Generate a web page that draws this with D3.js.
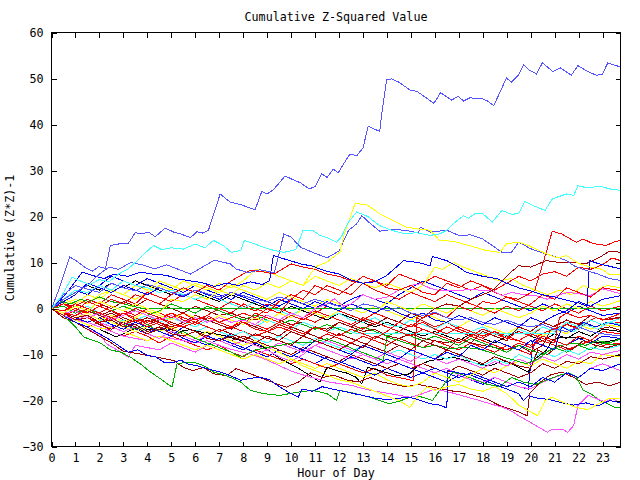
<!DOCTYPE html>
<html><head><meta charset="utf-8">
<script src="https://cdn.jsdelivr.net/npm/d3@7/dist/d3.min.js"></script>
<style>
html,body{margin:0;padding:0;background:#fff;}
text{font-family:"DejaVu Sans Mono",monospace;fill:#000;}
</style></head>
<body><svg id="c" width="640" height="480"></svg>
<script>
// ---- data: [hour, cumulative (Z*Z)-1] ----
const title = "Cumulative Z-Squared Value";
const xTitle = "Hour of Day";
const yTitle = "Cumulative (Z*Z)-1";
const xTicks = [0,1,2,3,4,5,6,7,8,9,10,11,12,13,14,15,16,17,18,19,20,21,22,23];
const yTicks = [-30,-20,-10,0,10,20,30,40,50,60];

const s01 = [[0,0],[0.3,4],[0.76,11.2],[1.0,10.5],[1.35,9.1],[1.7,8.1],[1.97,9.1],[2.25,8.7],[2.46,13.7],[2.88,14.1],[3.2,14.1],[3.5,16.5],[3.75,16.2],[4.05,16.6],[4.33,15.6],[4.75,17.5],[5.1,16.6],[5.4,16.2],[5.8,15.4],[6.07,16.7],[6.3,16.4],[6.55,17],[7.04,24.9],[7.46,23.1],[7.9,22.6],[8.2,22],[8.5,21.5],[8.78,25.5],[9.0,24.9],[9.26,25.8],[9.75,28.8],[10.17,27.8],[10.4,27.3],[10.76,26],[11.0,26.5],[11.28,29.3],[11.5,28.5],[11.76,30.3],[11.97,29.5],[12.2,31.5],[12.46,33.6],[12.74,33.2],[13,34.9],[13.22,39.6],[13.7,38.5],[13.8,43],[13.99,49.7],[14.2,49.9],[14.5,49.2],[14.96,47.5],[15.24,47.2],[15.37,46.8],[15.96,44.6],[16.24,46.9],[16.7,45.3],[16.97,46.1],[17.2,45.1],[17.46,45.8],[17.99,45.6],[18.2,45.1],[18.46,44.1],[18.99,50.1],[19.2,49.2],[19.47,50.6],[19.7,53.0],[19.95,51.8],[20.24,51],[20.49,53.4],[20.93,51.5],[21.24,52.3],[21.7,50.7],[21.97,52.8],[22.32,51.7],[22.74,50.7],[22.99,50.9],[23.22,53.4],[23.75,52.5]];
const s02 = [[0,0],[0.4,2.5],[0.86,6.8],[1.2,6],[1.6,5.2],[2,6.3],[2.4,5.8],[2.8,7.5],[3.2,8.6],[3.6,10.5],[4.0,12.5],[4.26,13.7],[4.6,12.8],[5,13.2],[5.5,12.9],[6,14],[6.4,13.2],[6.76,14.8],[7.2,13.6],[7.5,12.2],[7.9,12.6],[8.05,14.8],[8.5,14],[8.85,13.3],[9.3,12.6],[9.7,12.2],[10.2,12.8],[10.5,17],[10.9,17],[11.2,15.9],[11.6,15.2],[11.9,14.4],[12.1,15.6],[12.4,18.8],[12.74,21],[13.2,20],[13.7,18],[14.2,17],[14.8,16.2],[15.2,16.5],[15.8,15.9],[16.2,16.2],[16.5,17],[16.76,18.4],[17.2,20.2],[17.4,19.6],[17.67,20.6],[18,20.6],[18.4,18.8],[18.8,21.3],[19.2,20.5],[19.5,20.6],[19.75,23.3],[20.1,22.4],[20.6,21.3],[20.9,23.8],[21.1,24.2],[21.5,24.9],[21.8,24.6],[21.97,26.7],[22.3,26.3],[22.95,26.5],[23.3,26],[23.75,25.7]];
const s03 = [[0,0],[0.5,-1],[1,0.5],[1.5,-0.5],[2,1.5],[2.5,0.5],[3,-0.5],[3.5,1],[4,0],[4.5,-1],[5,2],[5.5,1.5],[6,3],[6.5,2],[7,4],[7.5,3],[8,5],[8.5,4],[9,5.5],[9.5,4.5],[10,6],[10.5,5],[11,9],[11.5,10.1],[12.04,12.3],[12.2,15.9],[12.67,22.8],[13.15,22.6],[13.7,20.6],[14.26,19.1],[14.8,17.7],[15.3,17.3],[15.8,17],[16.2,14.8],[16.8,14.6],[17.2,14],[17.7,13.3],[18.15,12.6],[18.7,12.2],[19,14.1],[19.5,14.4],[19.9,13.7],[20.65,11.9],[21.1,11],[21.5,11.5],[22,9.8],[22.5,9],[23,8.5],[23.3,7.3],[23.75,7.5]];
const s04 = [[0,0],[0.5,2],[1,3.5],[1.5,5],[2,7.5],[2.4,9],[2.8,8.5],[3.3,10],[3.8,9.5],[4.3,8.6],[4.8,9.5],[5.3,8.5],[5.8,7.5],[6.3,9],[6.8,10.5],[7.46,9.7],[7.7,8.6],[8.2,7.8],[8.7,8.4],[9.3,7.8],[9.7,16.2],[10.0,15.5],[10.4,13.3],[11,12],[11.5,11],[12,12.5],[12.4,17],[12.74,18.4],[12.95,20.2],[13.3,18.5],[13.7,16.8],[14.2,17.2],[14.8,17],[15.3,16.4],[15.4,17.7],[15.8,16.6],[16.5,17],[17,15.9],[17.5,16],[18,15.1],[18.4,13.7],[18.8,12.2],[19.2,12.2],[19.5,14.4],[20,13],[20.6,11.9],[21.2,11],[21.5,10.4],[21.8,9.3],[22.3,8.3],[22.8,7.5],[23.3,6.5],[23.75,6.1]];
const s05 = [[0,0],[0.5,3],[1,5],[1.5,4.2],[2,3.5],[2.5,5.5],[3,4.5],[3.5,3.8],[4,5.2],[4.5,4.5],[5,3.5],[5.5,2.8],[6,4],[6.5,3.2],[7,2.5],[7.5,3.5],[8,2.8],[8.5,2],[9,1.5],[9.5,2.5],[10,1.8],[10.5,1],[11,2],[11.5,1.2],[12,0.5],[12.5,-0.5],[13,1],[13.5,0.5],[14,-0.5],[14.5,0.2],[15,-1],[15.5,-1.5],[16,-0.8],[16.5,-2],[17,-2.5],[17.5,-2],[18,-3],[18.5,-3.5],[19,-2.5],[19.5,-3.5],[20,-4],[20.5,-3.5],[21,-4.5],[21.5,-5],[22,-4],[22.5,-5],[23,-5.5],[23.75,-6]];
const s06 = [[0,0],[0.4,2],[0.8,4.5],[1.28,7.9],[1.7,7.2],[2.2,6.5],[2.6,7.5],[3.2,7],[3.7,7.9],[4.2,7.5],[4.8,7.2],[5.3,6.4],[5.8,6],[6.3,5.6],[6.8,4.8],[7.3,5.5],[7.8,5],[8.3,5.8],[8.8,5.2],[9.1,6],[9.26,11.5],[9.7,10.8],[10.4,9.7],[10.9,9.2],[11.4,8.2],[12,7.5],[12.5,6.2],[13,5.5],[13.5,5.8],[14,7.2],[14.3,8.6],[14.7,10.4],[15.3,10],[15.8,9.3],[15.9,11.3],[16.5,10.4],[17,9],[17.3,7.9],[18,7],[18.6,6.5],[19,5.5],[19.5,4.5],[20,3.8],[20.5,3],[21,2.5],[21.5,1.8],[22,1.2],[22.35,0.5],[22.46,10.4],[22.8,9.8],[23.2,9.3],[23.75,8.6]];
const s07 = [[0,0],[0.5,-1],[1,-1.5],[1.5,0],[2,-1],[2.5,-2],[3,-1],[3.5,-2.5],[4,-3],[4.5,-2],[5,-3.5],[5.5,-4],[6,-3],[6.5,-4],[7,-5],[7.5,-4],[8,-3],[8.5,-4.5],[9,-5],[9.5,-3.5],[10,-4.5],[10.5,-5.5],[11,-4],[11.5,-5],[12,-6],[12.5,-4.5],[13,-5.5],[13.5,-6.5],[14,-5],[14.5,-3],[15,-4],[15.5,-2],[16,-1],[16.5,-2],[17,0.5],[17.5,-0.5],[18,1.5],[18.5,1],[19,2.5],[19.5,2],[20.17,3.9],[20.65,12.2],[20.9,16.8],[21.3,16.2],[21.9,14.4],[22.2,15.1],[22.6,14.1],[23.15,13.7],[23.5,14.5],[23.75,14.8]];
const s08 = [[0,0],[0.5,-1],[1,-2],[1.5,-1.5],[2,-3],[2.5,-2.5],[3,-4],[3.5,-3.5],[4,-5],[4.5,-4],[5,-5.5],[5.5,-6],[6,-5],[6.5,-6.5],[7,-7],[7.5,-6],[8,-7],[8.5,-5.5],[9,-6.5],[9.5,-7],[10,-5],[10.5,-6],[11,-4],[11.5,-5],[12,-3],[12.5,-4],[13,-2.5],[13.5,-3.5],[14,-2],[14.5,-3],[15,-1],[15.5,-2],[16,0],[16.5,1],[17,0.5],[17.5,2],[18,3],[18.4,3.9],[18.8,6],[19.2,8],[19.5,9.3],[20,9],[20.65,10.4],[21.2,10],[21.8,10],[22.3,9.7],[22.9,11.2],[23.3,12.5],[23.75,12.2]];
const s09 = [[0,0],[0.5,1],[1,-0.5],[1.5,1.5],[2,0.5],[2.5,2],[3,1],[3.5,3],[4,2],[4.5,1],[5,3],[5.5,4.5],[6,3.5],[6.5,5],[7,4],[7.5,6],[8,7.5],[8.3,8.3],[8.8,8],[9.3,7.5],[10,9.7],[10.5,9],[11,8.5],[11.5,7.5],[12,7],[12.5,6],[13,5.5],[13.5,6],[14,4.5],[14.5,4],[15,5],[15.5,3.5],[16,3],[16.5,5.5],[17,4.5],[17.5,6],[18,5],[18.5,4],[19,5.5],[19.5,7],[20,6],[20.5,7.5],[21,8],[21.5,7],[22,9],[22.5,8.5],[23,9.5],[23.4,11],[23.75,10.4]];
const s10 = [[0,0],[0.5,-0.5],[1,1],[1.5,0],[2,-1],[2.5,0.5],[3,-0.5],[3.5,-1.5],[4,0],[4.5,-1],[5,-2],[5.5,-1],[6,-2.5],[6.5,-1.5],[7,-3],[7.5,-2],[8,-1],[8.5,-2],[9,0],[9.5,-1],[10,2],[10.5,4],[11,3],[11.5,5],[12,4],[12.5,3],[13,5.5],[13.5,4],[14,3],[14.5,2],[15,3.5],[15.5,2.5],[16,1.5],[16.5,3],[17,2],[17.5,1],[18,0],[18.5,-1],[19,0.5],[19.5,-0.5],[20,1],[20.5,3],[21,2],[21.5,4.5],[22,3.5],[22.5,2.5],[23,4.5],[23.75,3.9]];
const s11 = [[0,0],[0.5,-1],[1,-0.5],[1.5,-2],[2,-1],[2.5,-2.5],[3,-1.5],[3.5,-0.5],[4,-1.5],[4.5,-2.5],[5,-1.5],[5.5,-3],[6,-2],[6.5,-3],[7,-2],[7.5,-3],[8,-2.5],[8.5,-3.5],[9,-1.5],[9.5,-2.5],[10,-1],[10.5,-2],[11,0],[11.5,1],[11.8,2.1],[12.2,0.5],[12.5,1],[13,3],[13.5,2],[14,2.5],[14.5,4],[15,5],[15.4,5.4],[15.8,4.4],[16.2,3.9],[17,3.9],[17.5,4.2],[18,3.9],[18.4,3.9],[18.8,2.8],[19.2,3.5],[19.7,3],[20.2,2.8],[20.7,2],[21.2,3],[21.6,3.5],[22,3.2],[22.5,2.8],[23,4.3],[23.75,3.2]];
const s12 = [[0,0],[0.5,1.5],[1,3],[1.5,5.5],[2,4.5],[2.5,3.5],[3,5],[3.5,4],[4,3],[4.5,4.5],[5,3.5],[5.5,2.5],[6,4],[6.5,3],[7,2],[7.5,3.5],[8,2.5],[8.5,1.5],[9,0.5],[9.5,2],[10,1],[10.5,0],[11,1.5],[11.5,0.5],[12,-0.5],[12.5,1],[13,0],[13.5,-1],[14,0.5],[14.5,-1],[15,-2],[15.5,-1],[16,-2.5],[16.5,-3],[17,-1.5],[17.5,-2.5],[18,-3.5],[18.5,-2],[19,-3],[19.5,-4],[20,-2],[20.5,-3],[21,-1.5],[21.5,-0.5],[22,1.5],[22.5,0.5],[23,2],[23.75,2.8]];
const s13 = [[0,0],[0.5,-1],[1,-2],[1.5,-1],[2,-2.5],[2.5,-1.5],[3,-3],[3.5,-2],[4,-0.5],[4.5,-1.5],[5,-2.5],[5.5,-1],[6,-2],[6.5,-3],[7,-1.5],[7.5,-2.5],[8,-3.5],[8.5,-2],[9,-3],[9.5,-1],[10,-2],[10.5,0],[11,-1],[11.5,-2],[12,-0.5],[12.5,1],[13,0],[13.5,-1],[14,1.5],[14.5,0.5],[15,-0.5],[15.5,1],[16,0],[16.5,-1],[17,0.5],[17.5,-0.5],[18,-1.5],[18.5,0],[19,-1],[19.5,-2],[20,-1],[20.5,0.5],[21,-0.5],[21.5,1],[22,0],[22.5,1.5],[23,0.5],[23.75,1.7]];
const s14 = [[0,0],[0.4,1.5],[0.8,1],[1.2,2],[1.6,1.5],[2,2.5],[2.5,1.5],[3,1],[3.4,0.5],[3.8,0],[23.75,0]];
const s15 = [[0,0],[0.5,-1.5],[1,-0.5],[1.5,-2],[2,-3],[2.5,-2],[3,-3.5],[3.5,-2.5],[4,-4],[4.5,-3],[5,-4.5],[5.5,-3.5],[6,-2],[6.5,-3],[7,-1.5],[7.5,-2.5],[8,-3.5],[8.5,-1],[9,-2],[9.5,-3],[10,-1.5],[10.5,-2.5],[11,-1],[11.5,0.5],[12,-0.5],[12.5,-1.5],[13,-2.5],[13.5,-1],[14,-2],[14.5,-3],[15,-4],[15.5,-3],[16,-4.5],[16.5,-5.5],[17,-4],[17.5,-5],[18,-6],[18.5,-5],[19,-6.5],[19.5,-7],[20,-5.5],[20.5,-6.5],[21,-7.5],[21.2,-2],[21.5,-1],[22,-2],[22.5,-1.5],[23,-2.5],[23.75,-1.1]];
const s16 = [[0,0],[0.5,-1],[1,-2.5],[1.5,-2],[2,-3.5],[2.5,-4.5],[3,-3],[3.5,-4],[4,-5.5],[4.5,-4.5],[5,-3],[5.5,-4],[6,-5],[6.5,-6],[7,-4.5],[7.5,-5.5],[8,-6.5],[8.5,-7.5],[9,-6],[9.5,-7],[10,-8],[10.5,-6],[11,-7],[11.5,-8],[12,-9],[12.5,-7.5],[13,-8.5],[13.5,-6],[14,-7],[14.5,-8],[15,-9],[15.5,-7],[16,-8],[16.5,-9],[17,-6.5],[17.5,-7.5],[18,-5],[18.5,-6],[19,-7],[19.5,-4],[20,-5],[20.5,-3],[21,-4],[21.5,-2.5],[22,-3.5],[22.5,-1.5],[23,-2.5],[23.75,-1.9]];
const s17 = [[0,0],[0.5,2],[1,4],[1.5,3.5],[2,5],[2.5,4],[3,6],[3.5,5],[4,4.5],[4.5,3.5],[5,4],[5.5,3],[6,2],[6.5,3],[7,2],[7.5,1],[8,0],[8.5,1.5],[9,0.5],[9.5,-0.5],[10,-1.5],[10.5,0],[11,-1],[11.5,-2],[12,-1],[12.5,-2.5],[13,-3],[13.5,-2],[14,-3.5],[14.5,-4],[15,-2.5],[15.5,-3.5],[16,-4.5],[16.5,-3],[17,-4],[17.5,-5],[18,-4],[18.5,-5.5],[19,-6],[19.5,-4.5],[20,-5.5],[20.5,-4],[21,-5],[21.5,-3],[22,-4],[22.5,-2.5],[23,-3.5],[23.75,-2.2]];
const s18 = [[0,0],[0.5,-1],[1,-2],[1.5,-3],[2,-2],[2.5,-3.5],[3,-4.5],[3.5,-3],[4,-4],[4.5,-5],[5,-6],[5.5,-4],[6,-5],[6.5,-6],[7,-7],[7.5,-5.5],[8,-6.5],[8.5,-7.5],[9,-6],[9.5,-7],[10,-8],[10.5,-9],[11,-7],[11.5,-8],[12,-9],[12.5,-10],[13,-8],[13.5,-9],[14,-10],[14.5,-11],[15,-9],[15.5,-10],[16,-11],[16.5,-9.5],[17,-10.5],[17.5,-8],[18,-9],[18.5,-7],[19,-8],[19.5,-9],[20,-7],[20.5,-8],[21,-9],[21.3,-4],[21.7,-5],[22.2,-3],[22.7,-4],[23.2,-3],[23.75,-3.7]];
const s19 = [[0,0],[0.5,1],[1,0],[1.5,-1],[2,0.5],[2.5,-0.5],[3,-1.5],[3.5,0],[4,-1],[4.5,-2],[5,-1],[5.5,-2.5],[6,-3.5],[6.5,-2],[7,-3],[7.5,-4],[8,-2.5],[8.5,-3.5],[9,-4.5],[9.5,-3],[10,-4],[10.5,-2],[11,-3],[11.5,-1.5],[12,-2.5],[12.5,-3.5],[13,-4.5],[13.5,-3],[14,-4],[14.5,-5],[15,-6],[15.5,-4.5],[16,-5.5],[16.5,-6.5],[17,-7.5],[17.5,-6],[18,-7],[18.5,-8],[19,-9],[19.5,-7.5],[20,-8.5],[20.5,-6],[21,-7],[21.5,-8],[22,-6],[22.5,-7],[23,-5],[23.75,-5.5]];
const s20 = [[0,0],[0.5,-1.5],[1,-0.5],[1.5,-2],[2,-3],[2.5,-2],[3,-3.5],[3.5,-4.5],[4,-3.5],[4.5,-5],[5,-6],[5.5,-5],[6,-6.5],[6.5,-7.5],[7,-8.5],[7.5,-9.5],[7.9,-10.6],[8.5,-9],[9,-8.5],[9.54,-8],[10.24,-7.3],[10.8,-7.5],[11.5,-6.6],[12,-7.5],[12.6,-8.8],[13.2,-10],[13.85,-11.3],[14,-6.2],[14.5,-7],[15,-7.8],[15.5,-8.5],[16,-8],[16.7,-8.8],[17.2,-8.4],[17.8,-8.8],[18.3,-9.5],[18.8,-10.5],[19.3,-11.2],[19.8,-12],[20.3,-11],[20.8,-9],[21.3,-8],[21.8,-7.5],[22.3,-8],[22.8,-7],[23.3,-7.5],[23.75,-6.6]];
const s21 = [[0,0],[0.5,-1],[1,0.5],[1.5,-0.5],[2,-1.5],[2.5,-0.5],[3,-2],[3.5,-3],[4,-2],[4.5,-3],[5,-4],[5.5,-3],[6,-1.5],[6.5,-2.5],[7,-3.5],[7.5,-4.5],[8,-3],[8.5,-4],[9,-5],[9.5,-6],[10,-4],[10.5,-5],[11,-6],[11.5,-7],[12,-5.5],[12.5,-6.5],[13,-7.5],[13.5,-8.5],[14,-9.5],[14.5,-8],[15,-9],[15.5,-10],[16,-11],[16.5,-9],[17,-10],[17.5,-11],[18,-12],[18.5,-10.5],[19,-11.5],[19.5,-12.5],[20,-13],[20.3,-9],[20.7,-10],[21.2,-8],[21.7,-9],[22.2,-7],[22.7,-8],[23.2,-8.5],[23.75,-7.7]];
const s22 = [[0,0],[0.5,-1.5],[1,-2.5],[1.5,-1.5],[2,-3],[2.5,-4],[3,-5],[3.5,-4],[4,-5.5],[4.5,-6.5],[5,-5],[5.5,-6],[6,-7],[6.5,-6],[7,-7],[7.5,-8],[8,-7],[8.5,-8],[9,-9],[9.5,-7.5],[10,-8.5],[10.5,-9.5],[11,-8],[11.5,-7],[12,-8],[12.5,-9],[13,-10],[13.5,-11],[14,-9.5],[14.5,-10.5],[15,-11.5],[15.5,-10],[16,-11],[16.5,-12],[17,-11],[17.5,-12],[18,-13],[18.5,-11.5],[19,-12.5],[19.5,-11],[20,-12],[20.5,-10.5],[21,-11.5],[21.5,-10],[22,-11],[22.5,-9.5],[23,-10],[23.75,-9.1]];
const s23 = [[0,0],[0.5,-1],[1,-2],[1.5,-3],[2,-2],[2.5,-3],[3,-4],[3.5,-5],[4,-4],[4.5,-5],[5,-4],[5.5,-5.5],[6,-6.5],[6.5,-5],[7,-6],[7.5,-7],[8,-8],[8.5,-7],[9,-8.5],[9.5,-9.5],[10,-11],[10.5,-12],[11,-13],[11.5,-12],[12,-13],[12.5,-14],[13,-15],[13.5,-14],[14,-15.5],[14.5,-16.5],[15,-17],[15.5,-16],[16,-14],[16.5,-15],[17,-16],[17.5,-14.5],[18,-13],[18.5,-14],[19,-12.5],[19.5,-11.5],[20,-12.5],[20.5,-11],[21,-12],[21.5,-13],[22,-11.5],[22.5,-12],[23,-10],[23.75,-10.5]];
const s24 = [[0,0],[0.5,-1.5],[1,-2.5],[1.5,-3.5],[2,-4.5],[2.5,-4],[3,-5],[3.5,-6],[4,-7],[4.5,-6],[5,-7],[5.5,-8],[6,-9],[6.5,-8],[7,-9],[7.5,-10],[8,-11],[8.5,-10],[9,-11],[9.5,-12],[10,-11],[10.5,-12.5],[11,-13.5],[11.5,-14.5],[12,-15.5],[12.5,-16],[13,-17],[13.5,-18],[14,-19],[14.5,-20],[14.96,-21.5],[15.3,-19],[15.7,-17],[16,-17.8],[16.5,-17],[17,-16.5],[17.5,-17.5],[18,-18],[18.5,-17],[19,-18.5],[19.5,-21],[20,-22.5],[20.3,-23.3],[20.6,-20],[20.9,-19.3],[21.4,-20.5],[21.9,-21.5],[22.4,-22],[22.9,-20.5],[23.3,-19.5],[23.75,-19.6]];
const s25 = [[0,0],[0.5,-1],[1,-2.5],[1.5,-1.5],[2,-3],[2.5,-4],[3,-3],[3.5,-4.5],[4,-5.5],[4.5,-4],[5,-5],[5.5,-6.5],[6,-7.5],[6.5,-6],[7,-7],[7.5,-8],[8,-9],[8.5,-7.5],[9,-8.5],[9.5,-9.5],[10,-10.5],[10.5,-9],[11,-10],[11.5,-11],[12,-12],[12.5,-10.5],[13,-11.5],[13.5,-12.5],[14,-11],[14.5,-12],[15,-13],[15.5,-14],[16,-13],[16.5,-14],[17,-15],[17.5,-14],[18,-15],[18.5,-16],[19,-17],[19.5,-16],[20,-17],[20.5,-15],[21,-16],[21.5,-14],[22,-15],[22.5,-13],[23,-13.5],[23.75,-12]];
const s26 = [[0,0],[0.5,-1.5],[1,-3],[1.5,-4],[2,-5.5],[2.5,-7],[3.2,-9.5],[3.6,-9],[4,-10.2],[4.35,-10.5],[4.7,-11.7],[5.1,-11.7],[5.4,-11.2],[5.65,-12],[6.1,-12.5],[6.5,-13.1],[7.04,-13.8],[7.46,-14.6],[7.9,-15.6],[8.3,-15.2],[8.7,-14.9],[9.1,-15.5],[9.54,-17.1],[9.9,-18.2],[10.3,-19.3],[10.45,-17.5],[10.9,-18],[11.3,-17],[11.7,-17.5],[12.2,-18],[12.6,-18.5],[13,-18.9],[13.5,-19.5],[14,-19.8],[14.5,-19.5],[14.96,-19.3],[15.4,-20],[15.8,-20.7],[16.2,-21],[16.5,-21.6],[16.55,-13.5],[17,-14],[17.5,-14.5],[18,-15.5],[18.5,-16.5],[19,-17.5],[19.5,-18.5],[19.7,-20],[19.9,-19],[20.3,-19.5],[20.8,-19.8],[21.3,-20.5],[21.8,-21],[22.3,-20.5],[22.8,-21.2],[23.3,-20],[23.75,-20.5]];
const s27 = [[0,0],[0.5,-1],[1,-2.5],[1.5,-3],[2,-4],[2.5,-5],[3,-6],[3.5,-6.5],[4,-7],[4.5,-6],[5,-6.5],[5.5,-7],[6,-7.5],[6.5,-7],[7,-8],[7.46,-8.8],[8.3,-9.9],[8.9,-11],[9.5,-12.4],[10.1,-13.8],[10.8,-14.9],[11.6,-16],[12.5,-16.7],[13.3,-17.8],[14.1,-18.5],[15,-19.3],[15.5,-18.5],[16,-17.5],[16.76,-18.4],[17.3,-19.2],[17.8,-19.9],[18.3,-20.7],[18.85,-21.5],[19.2,-22.3],[19.5,-23.3],[19.8,-24.2],[20.1,-25.1],[20.4,-26],[20.7,-26.9],[20.9,-26.2],[21.3,-26.2],[21.55,-26.9],[21.8,-25.4],[21.97,-21.1],[22.4,-18.9],[22.7,-19.5],[23.1,-20.3],[23.4,-19.6],[23.75,-20.5]];
const s28 = [[0,0],[0.5,-1.5],[1,-4],[1.35,-6.2],[2.04,-7.5],[2.46,-9],[2.9,-9.5],[3.3,-10.6],[3.7,-12],[4.05,-13.5],[4.55,-15.3],[5.03,-17.1],[5.24,-12],[5.5,-11.8],[5.93,-11.7],[6.35,-12.4],[6.76,-13.8],[7.3,-14.6],[7.9,-16],[8.3,-17.8],[8.85,-18.5],[9.54,-18.9],[10.24,-18.2],[10.9,-17.8],[11.5,-18.5],[11.9,-20],[12.04,-17.8],[12.7,-18.5],[13.3,-19.3],[14.1,-20.7],[14.5,-20.2],[14.8,-19.6],[15.24,-18.9],[15.6,-19.5],[15.9,-20],[16.2,-17.8],[16.76,-13.8],[17.2,-14.5],[17.7,-15.5],[18.2,-16.5],[18.7,-17],[19.2,-15],[19.7,-16],[20.2,-16.5],[20.7,-15.5],[21.2,-14.5],[21.6,-14],[21.9,-14.9],[22.2,-17.8],[22.5,-18.5],[22.9,-20],[23.2,-20.7],[23.5,-21.5],[23.75,-21.5]];
const s29 = [[0,0],[0.5,-2],[1,-3],[1.5,-4.5],[2,-6],[2.5,-7.5],[3,-9.3],[3.7,-9.9],[4.4,-10.6],[5.1,-11.3],[5.5,-12.8],[5.9,-13.5],[6.35,-12.8],[6.76,-14.2],[7.3,-14.6],[7.7,-13.1],[8.2,-14],[8.85,-15.3],[9.4,-16.4],[9.8,-17.1],[10.3,-16],[10.8,-14],[11.3,-15],[11.8,-14.5],[12.3,-15.5],[12.8,-16],[13.3,-15],[13.8,-16],[14.3,-16.5],[14.8,-17],[15.3,-16.5],[15.8,-17],[16.3,-17.5],[16.8,-18],[17.2,-18.2],[17.7,-19],[18.15,-19.6],[18.7,-21.1],[19.1,-21.8],[19.5,-22.5],[19.85,-23.3],[19.96,-18.5],[20.4,-16],[20.8,-14.5],[21.3,-13.8],[21.8,-15],[22.3,-16.5],[22.8,-16],[23.3,-16.8],[23.75,-16]];
const s30 = [[0,0],[0.5,-2],[1,-3],[1.5,-4.5],[2,-5.5],[2.3,-7.7],[2.9,-9.5],[3.2,-10.6],[3.5,-8],[4,-8.5],[4.5,-9],[5,-7.5],[5.5,-8.5],[6,-9.5],[6.5,-8],[7,-9],[7.5,-10],[8,-11],[8.5,-10],[9,-9],[9.5,-10.5],[10,-11.5],[10.5,-10],[11,-8],[11.5,-9],[12,-10],[12.5,-11],[13,-10],[13.5,-11],[14,-12],[14.5,-11],[15,-12],[15.5,-13],[16,-14],[16.5,-13],[17,-14.5],[17.5,-15.5],[18,-16],[18.5,-15],[19,-16],[19.5,-17],[20,-17.5],[20.5,-16],[21,-15],[21.5,-14],[22,-15],[22.5,-13],[23,-12],[23.75,-13.5]];
const s31 = [[0,0],[0.5,1],[1,-0.5],[1.5,0.5],[2,-1],[2.5,-2],[3,-1],[3.5,-2.5],[4,-1.5],[4.5,-3],[5,-2],[5.5,-3],[6,-4],[6.5,-2.5],[7,-3.5],[7.5,-4.5],[8,-3],[8.5,-4],[9,-2.5],[9.5,-3.5],[10,-4.5],[10.5,-3],[11,-4],[11.5,-5],[12,-4],[12.7,-5.4],[21,-5.4],[21.3,-4],[21.8,-5],[22.3,-3.5],[22.8,-4.5],[23.3,-3],[23.75,-3.5]];
const s32 = [[0,0],[0.5,-1],[1,-2],[1.5,-1],[2,-2.5],[2.5,-3.5],[3,-2.5],[3.5,-4],[4,-5],[4.5,-4],[5,-5],[5.5,-6],[6,-5],[6.5,-4],[7,-5],[7.5,-6],[8,-5],[8.5,-6.5],[9,-7.5],[9.5,-6],[10,-7],[10.5,-8],[11,-6.5],[11.5,-7.5],[12,-8.5],[12.5,-9.5],[13,-8],[13.5,-9],[14,-10],[14.5,-9],[15,-10],[15.5,-11],[16,-10],[16.5,-11],[17,-10],[17.5,-11.5],[18,-12.5],[18.5,-11],[19,-12],[19.5,-10],[20,-11],[20.5,-9.5],[21,-10.5],[21.5,-9],[22,-10],[22.5,-8.5],[23,-9],[23.75,-8]];
const s33 = [[0,0],[0.5,0.5],[1,-1],[1.5,0],[2,-1.5],[2.5,-0.5],[3,0.5],[3.5,-0.5],[4,-1.5],[4.5,-0.5],[5,1],[5.5,0],[6,-1],[6.5,0.5],[7,-0.5],[7.5,-1.5],[8,-2.5],[8.5,-1.5],[9,-2.5],[9.5,-3.5],[10,-2.5],[10.5,-3.5],[11,-4.5],[11.5,-3.5],[12,-4.5],[12.5,-5.5],[13,-4],[13.5,-5],[14,-6],[14.5,-5],[15,-6],[15.5,-7],[16,-6],[16.5,-7],[17,-8],[17.5,-6.5],[18,-7.5],[18.5,-8.5],[19,-9.5],[19.5,-8],[20,-9],[20.5,-10],[21,-8.5],[21.5,-9.5],[22,-8],[22.5,-9],[23,-7.5],[23.75,-8]];
const s34 = [[0,0],[0.5,-0.5],[1,0.5],[1.5,2],[2,1],[2.5,3],[3,2],[3.5,1],[4,3.5],[4.5,2.5],[5,1.5],[5.5,3],[6,2],[6.5,1],[7,0],[7.5,1.5],[8,0.5],[8.5,-0.5],[9,1],[9.5,0],[10,-1],[10.5,-2],[11,-0.5],[11.5,-1.5],[12,-2.5],[12.5,-3.5],[13,-2],[13.5,-3],[14,-4],[14.5,-5],[15,-3.5],[15.5,-4.5],[16,-5.5],[16.5,-4],[17,-5],[17.5,-6],[18,-4.5],[18.5,-5.5],[19,-6.5],[19.5,-5],[20,-6],[20.5,-4],[21,-5],[21.5,-3.5],[22,-4.5],[22.5,-2.5],[23,-3.5],[23.75,-3]];
const s35 = [[0,0],[0.5,-1],[1,-2],[1.5,-3],[2,-2],[2.5,-1],[3,-2.5],[3.5,-3.5],[4,-2.5],[4.5,-3.5],[5,-4.5],[5.5,-5.5],[6,-6.5],[6.5,-5],[7,-6],[7.5,-7],[8,-6],[8.5,-7],[9,-8],[9.5,-9],[10,-10],[10.5,-8.5],[11,-9.5],[11.5,-10.5],[12,-11.5],[12.5,-10],[13,-11],[13.5,-12],[14,-13],[14.5,-12],[15,-13],[15.5,-12],[16,-13],[16.5,-14],[17,-12.5],[17.5,-13.5],[18,-14.5],[18.5,-13],[19,-14],[19.5,-15],[20,-14],[20.5,-12],[21,-13],[21.5,-11.5],[22,-12],[22.5,-10.5],[23,-11],[23.75,-10]];
const s36 = [[0,0],[0.5,-1.5],[1,-2.5],[1.5,-3.5],[2,-4.5],[2.7,-6.2],[3.2,-5],[3.57,-4.1],[4,-4.5],[4.33,-4.8],[4.8,-4.4],[5.3,-5],[5.8,-4.6],[6.3,-5.2],[6.8,-5.5],[7.3,-6],[7.9,-7],[8.3,-7.6],[8.9,-8.5],[9.54,-10.9],[10.24,-12.8],[10.8,-14.6],[11.2,-16],[11.5,-12.8],[11.9,-13.5],[12.3,-14],[12.7,-14.9],[12.95,-16.4],[13.2,-12.8],[13.7,-13.5],[14.4,-14.6],[14.96,-14.2],[15.3,-12.4],[15.8,-11.3],[16.3,-11],[16.76,-10.6],[17.3,-11.3],[17.8,-12],[18.3,-12.5],[18.85,-11.3],[19.1,-11.8],[19.5,-12.8],[19.9,-13.8],[20.2,-10.9],[20.65,-9.1],[20.9,-7],[21.2,-6.2],[21.7,-6.2],[22.3,-6.6],[22.7,-7.5],[23.2,-7.2],[23.75,-6.6]];
const s37 = [[0,0],[0.5,1],[1,0.5],[1.5,2],[2,1],[2.5,0],[3,1.5],[3.5,0.5],[4,2],[4.5,1],[5,0],[5.5,-1],[6,0.5],[6.5,-0.5],[7,-1.5],[7.5,-1],[8,-2],[8.5,-2.5],[9,-1.5],[9.5,-2.5],[10,-3.5],[10.5,-3],[11,-4],[11.5,-4.5],[12,-3],[12.5,-4],[13,-5],[13.5,-4.5],[14,-6],[14.5,-6.5],[15,-5.5],[15.5,-6.5],[16,-7],[16.5,-7.5],[17,-6.5],[17.5,-7.5],[18,-8],[18.5,-8.5],[19,-9],[19.5,-8],[20,-9.5],[20.5,-8],[20.9,-4],[21.3,-3],[21.8,-4],[22.3,-3.5],[22.8,-4.5],[23.3,-4],[23.75,-4.8]];
const s38 = [[0,0],[0.5,-1],[1,-1.5],[1.5,-0.5],[2,-1.5],[2.5,-2.5],[3,-1],[3.5,-2],[4,-3],[4.5,-2],[5,-3],[5.5,-4],[6,-3],[6.5,-4],[7,-5],[7.5,-4],[8,-5],[8.5,-6],[9,-5],[9.5,-4],[10,-5],[10.5,-6],[11,-7],[11.5,-5.5],[12,-6.5],[12.5,-7.5],[13,-6],[13.5,-7],[14,-8],[14.5,-6.5],[15,-7.5],[15.5,-8.5],[16,-7],[16.5,-8],[17,-9],[17.5,-7.5],[18,-8.5],[18.5,-9.5],[19,-8],[19.5,-9],[20,-10],[20.3,-6],[20.7,-5],[21.2,-4],[21.7,-3],[22.2,-3.5],[22.7,-2],[23.2,-2.5],[23.75,-2]];
const s39 = [[0,0],[0.5,1],[1,2],[1.5,1],[2,3],[2.5,4],[3,3],[3.5,5],[4,4],[4.5,6],[5,5],[5.5,4],[6,5.5],[6.5,4.5],[7,3.5],[7.5,5],[8,4],[8.5,3],[9,2],[9.5,3.5],[10,2.5],[10.5,1.5],[11,0.5],[11.5,2],[12,1],[12.5,0],[13,-1],[13.5,0.5],[14,-0.5],[14.5,-1.5],[15,-2.5],[15.5,-1],[16,-2],[16.5,-3],[17,-4],[17.5,-2.5],[18,-3.5],[18.5,-4.5],[19,-5.5],[19.5,-4],[20,-5],[20.5,-6],[21,-4.5],[21.5,-5.5],[22,-3.5],[22.5,-4.5],[23,-3.5],[23.75,-4]];
const s40 = [[0,0],[0.5,2],[1,1],[1.5,3],[2,2],[2.5,4],[3,3],[3.5,2],[4,3.5],[4.5,5],[5,4],[5.5,6],[6,5],[6.5,4],[7,5.5],[7.5,4.5],[8,6],[8.57,8.6],[9,8],[9.5,7],[10,6],[10.5,5],[11,7],[11.5,6],[12,5],[12.5,6.5],[13,5.5],[13.5,4.5],[14,5.5],[14.5,4.5],[15,3.5],[15.5,5],[16,9],[16.3,8.5],[16.8,10],[17.2,9],[17.7,8],[18.2,7],[18.7,6],[19.2,6.5],[19.7,5],[20.2,4],[20.7,3],[21.2,4],[21.7,3],[22.2,5],[22.7,4],[23.2,5],[23.75,4.5]];
const s41 = [[0,0],[0.5,-1],[1,-2],[1.5,-1],[2,-2.5],[2.5,-1.5],[3,-3],[3.5,-2],[4,-3.5],[4.5,-2.5],[5,-1],[5.5,-2],[6,-3],[6.5,-1.5],[7,0],[7.5,-1],[8,1],[8.5,0],[9,-1],[9.5,1.5],[10,3],[10.5,2],[11,5],[11.5,4],[12,3],[12.5,5],[13,7],[13.5,6],[14,5],[14.5,7.5],[15,6.5],[15.5,5.5],[16,7],[16.5,6],[17,5],[17.5,4],[18,5],[18.5,3.5],[19,2.5],[19.5,1.5],[20,0.5],[20.5,-0.5],[21,1],[21.5,0],[22,-1],[22.5,0.5],[23,-0.5],[23.75,0.5]];
const s42 = [[0,0],[0.5,-2],[1,-3],[1.5,-4],[2,-3],[2.5,-5],[3,-6],[3.5,-5],[4,-6],[4.5,-7.5],[5,-6],[5.5,-7],[6,-8],[6.5,-9],[7,-8],[7.5,-9.5],[8,-10.5],[8.5,-9],[9,-10],[9.5,-11],[10,-12],[10.5,-11],[11,-12],[11.5,-13],[12,-12],[12.5,-13],[13,-14],[13.5,-13],[14,-14.5],[14.5,-15],[15.1,-15.7],[15.25,-2],[15.6,-3],[16,-4],[16.5,-3],[17,-4.5],[17.5,-5.5],[18,-6.5],[18.5,-5],[19,-6],[19.5,-7],[20,-8],[20.5,-7],[21,-8],[21.5,-9],[22,-8],[22.5,-7],[23,-8],[23.75,-7.5]];
const s43 = [[0,0],[0.5,-1],[1,-0.5],[1.5,-2],[2,-3],[2.5,-2],[3,-3.5],[3.5,-4.5],[4,-5.5],[4.5,-4],[5,-5],[5.5,-6],[6,-7],[6.5,-8],[7,-6.5],[7.5,-7.5],[8,-8.5],[8.5,-9.5],[9,-10.5],[9.5,-9],[10,-10],[10.5,-11],[11,-12],[11.5,-10.5],[12,-11.5],[12.5,-12.5],[13,-13.5],[13.5,-14.5],[14,-13],[14.5,-14],[15,-15],[15.5,-14],[16,-15],[16.5,-16],[17,-14.5],[17.5,-15.5],[18,-16.5],[18.5,-15],[19,-16],[19.5,-17],[19.9,-17.5],[20.1,-7],[20.5,-6],[21,-7],[21.5,-8],[22,-6.5],[22.5,-7.5],[23,-6],[23.75,-6.5]];
const s44 = [[0,0],[0.5,2],[1,4],[1.5,3],[2,5],[2.5,7],[3,6],[3.5,5],[4,6.5],[4.5,5.5],[5,4.5],[5.5,3.5],[6,5],[6.5,4],[7,3],[7.5,2],[8,3.5],[8.5,2.5],[9,1.5],[9.5,0.5],[10,2],[10.5,1],[11,0],[11.5,1.5],[12,0.5],[12.5,2],[13,3],[13.5,2],[14,1],[14.5,3],[15,4.5],[15.5,6],[16,5],[16.5,4],[17,3],[17.5,2],[18,3.5],[18.5,2.5],[19,1.5],[19.5,0.5],[20,-0.5],[20.5,1],[21,0],[21.5,-1],[22,0.5],[22.5,-0.5],[23,-1.5],[23.75,-1]];
const s45 = [[0,0],[0.5,2],[1,3.5],[1.5,5],[2,4],[2.5,5.5],[3,4.5],[3.5,6],[4,5],[4.5,4],[5,3],[5.5,4.5],[6,3.5],[6.5,2.5],[7,1.5],[7.5,3],[8,2],[8.5,1],[9,0],[9.5,-1],[10,0.5],[10.5,-0.5],[11,-1.5],[11.5,-2.5],[12,-1],[12.5,-2],[13,-3],[13.5,-4],[14,-3],[14.5,-4],[15,-5],[15.5,-6],[16,-5],[16.5,-6],[17,-7],[17.5,-5.5],[18,-6.5],[18.5,-7.5],[19,-6],[19.5,-5],[20,-6],[20.5,-7],[21,-5.5],[21.5,-6.5],[22,-5],[22.5,-6],[23,-4.5],[23.75,-5]];

const seriesList = [s45,s44,s43,s42,s41,s40,s39,s38,s37,s36,s35,s34,s33,s32,s31,s30,s29,s28,s27,s26,s25,s24,s23,s22,s21,s20,s19,s18,s17,s16,s15,s14,s13,s12,s11,s10,s09,s08,s07,s06,s05,s04,s03,s02,s01];
const seriesColors = ["#000000","#0000ff","#0000ff","#ff0000","#ff0000","#ffff00","#ffff00","#ff0000","#a00000","#000000","#a00000","#ff0000","#00b000","#40ffff","#40ffff","#ff50ff","#a00000","#00b000","#ff50ff","#0000ff","#0000ff","#ffff00","#ffff00","#ff50ff","#a00000","#00b000","#ff0000","#0000ff","#40ffff","#a00000","#ff0000","#00b000","#ffff00","#0000ff","#ff50ff","#ff0000","#ff0000","#a00000","#ff0000","#0000ff","#5555ff","#5555ff","#ffff00","#40ffff","#5555ff"];

// ---- drawing ----
const svg = d3.select("#c");
const L = 51.5, R = 620.5, T = 32.5, B = 446.5;
const x = d3.scaleLinear().domain([0, 23.75]).range([L, R]);
const y = d3.scaleLinear().domain([-30, 60]).range([B, T]);
const fs = "11.7px";

const line = d3.line().x(d => x(d[0])).y(d => y(d[1]));
const g = svg.append("g");
seriesList.forEach((s, i) => {
  g.append("path").attr("d", line(s)).attr("fill", "none")
    .attr("stroke", seriesColors[i]).attr("stroke-width", 1)
    .attr("shape-rendering", "crispEdges");
});

function styleAxis(sel, labels) {
  sel.select(".domain").remove();
  sel.selectAll(".tick line").attr("stroke", "#000").attr("shape-rendering", "crispEdges");
  sel.selectAll(".tick text").attr("font-size", fs).attr("fill", "#000")
     .attr("font-family", '"DejaVu Sans Mono", monospace');
  if (!labels) sel.selectAll(".tick text").remove();
}
svg.append("g").attr("transform", `translate(0,${B})`)
  .call(d3.axisBottom(x).tickValues(xTicks).tickSize(-5).tickPadding(7).tickFormat(d3.format("d")))
  .call(s => styleAxis(s, true));
svg.append("g").attr("transform", `translate(0,${T})`)
  .call(d3.axisTop(x).tickValues(xTicks).tickSize(-5).tickFormat(""))
  .call(s => styleAxis(s, false));
svg.append("g").attr("transform", `translate(${L},0)`)
  .call(d3.axisLeft(y).tickValues(yTicks).tickSize(-5).tickPadding(8).tickFormat(d3.format("d")))
  .call(s => styleAxis(s, true));
svg.append("g").attr("transform", `translate(${R},0)`)
  .call(d3.axisRight(y).tickValues(yTicks).tickSize(-5).tickFormat(""))
  .call(s => styleAxis(s, false));

svg.append("rect").attr("x", L).attr("y", T).attr("width", R - L).attr("height", B - T)
  .attr("fill", "none").attr("stroke", "#000").attr("stroke-width", 1)
  .attr("shape-rendering", "crispEdges");

svg.append("text").attr("x", 336).attr("y", 21).attr("text-anchor", "middle")
  .attr("font-size", fs).text(title);
svg.append("text").attr("x", 336).attr("y", 477).attr("text-anchor", "middle")
  .attr("font-size", fs).text(xTitle);
svg.append("text").attr("transform", "translate(14,238) rotate(-90)")
  .attr("text-anchor", "middle").attr("font-size", fs).text(yTitle);
</script></body></html>
